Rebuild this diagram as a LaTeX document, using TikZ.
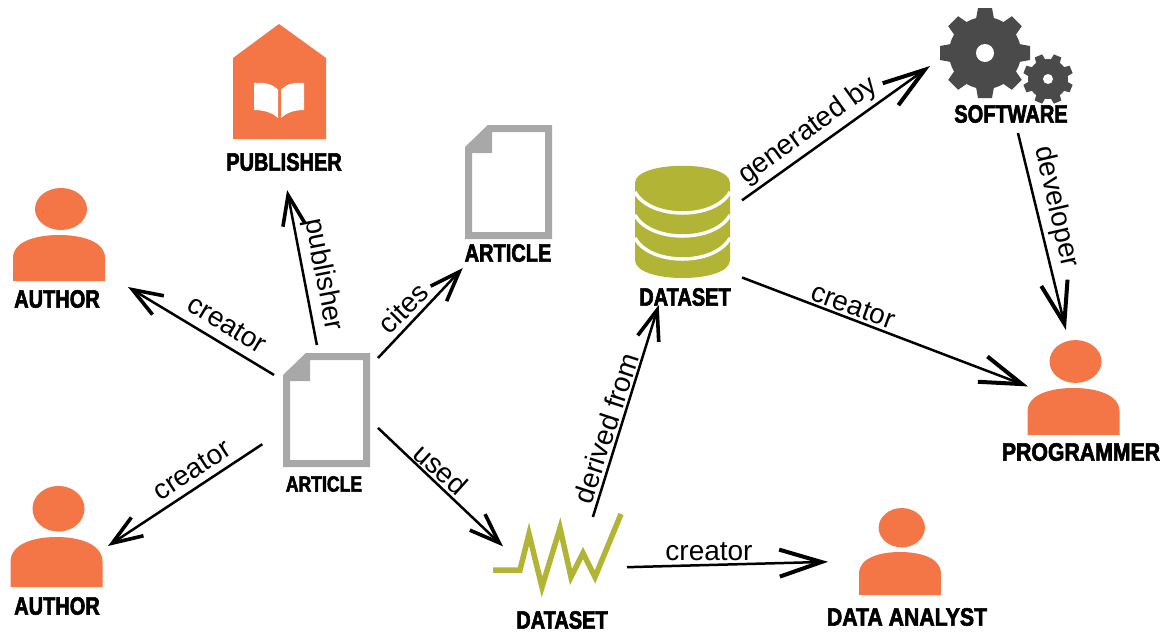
\documentclass[tikz,border=0pt]{standalone}
\usepackage{fontspec}
\setmainfont{Liberation Sans}
\newfontfamily\capsfont[FakeStretch=0.8,FakeBold=2.4]{Liberation Sans Bold}
\newfontfamily\widecapsfont[FakeStretch=0.85,FakeBold=2.4]{Liberation Sans Bold}
\usetikzlibrary{arrows.meta}

\definecolor{personcol}{HTML}{F47545}
\definecolor{datacol}{HTML}{B1B435}
\definecolor{doccol}{HTML}{A8A8A8}
\definecolor{gearcol}{HTML}{4A4A4A}

\tikzset{
    iconbox/.style 2 args={minimum width=#1,minimum height=#2,inner sep=0pt,outer sep=0pt},
    caption/.style={font=\capsfont\fontsize{25}{25}\selectfont,text=black,inner sep=0pt},
    widecaption/.style={font=\widecapsfont\fontsize{25}{25}\selectfont,text=black,inner sep=0pt},
    smallcaption/.style={font=\capsfont\fontsize{22}{22}\selectfont,text=black,inner sep=0pt},
    linklabel/.style={font=\fontsize{28}{28}\selectfont,text=black,inner sep=0pt},
    link/.style={draw=black,line width=2.5pt,-{Straight Barb[length=30pt,width=22pt,line width=3.6pt]}},
    biglink/.style={draw=black,line width=2.5pt,-{Straight Barb[length=42pt,width=27pt,line width=4pt]}},
    pics/person/.style={code={
        \fill[personcol] (2,-26) ellipse (26 and 21);
        \fill[personcol] (-46,46) -- (-46,23) .. controls (-46,6) and (-22,0) .. (0,0)
            .. controls (22,0) and (46,6) .. (46,23) -- (46,46) -- cycle;
    }},
    pics/docpage/.style={code={
        \draw[doccol,line width=7pt,miter limit=10] (-40,-33) -- (-19,-53.5) -- (40,-53.5) -- (40,53.5) -- (-40,53.5) -- cycle;
        \fill[doccol] (-43.5,-29) -- (-16.5,-29) -- (-16.5,-57) -- (-20.5,-57) -- (-43.5,-35) -- cycle;
    }}
}

\begin{document}
\begin{tikzpicture}[x=1pt,y=-1pt]
    \fill[white] (0,0) rectangle (1164,635);
    \useasboundingbox (0,0) rectangle (1164,635);

    % icon boxes
    \node[iconbox={104pt}{130pt}] (article) at (326,410) {};
    \node[iconbox={100pt}{172pt}] (cited) at (508.5,182) {};
    \node[iconbox={138pt}{110pt}] (authorA) at (59,235) {};
    \node[iconbox={102pt}{92pt}] (authorB) at (57,537) {};
    \node[iconbox={93pt}{217pt}] (publisher) at (279.5,81.5) {};
    \node[iconbox={124pt}{74pt}] (wave) at (565,554) {};
    \node[iconbox={119pt}{166pt}] (dataset) at (682.5,222) {};
    \node[iconbox={140pt}{134pt}] (software) at (1000,66) {};
    \node[iconbox={90pt}{116pt}] (programmer) at (1073,388) {};
    \node[iconbox={154pt}{90pt}] (analyst) at (905,551) {};

    % people and pages
    \pic at (59,235) {person};
    \pic[yscale=1.087] at (56.5,537) {person};
    \pic[yscale=1.02] at (1073.5,388) {person};
    \pic[xscale=0.89,yscale=0.935] at (900,552) {person};
    \pic at (326.5,410) {docpage};
    \pic at (508.5,182) {docpage};

    % publisher house
    \fill[personcol] (279,24) -- (326,58) -- (326,139) -- (233,139) -- (233,58) -- cycle;
    \fill[white] (254,83) .. controls (264,82) and (273,84) .. (278,90) -- (278,118)
        .. controls (273,113) and (264,110) .. (254,110) -- cycle;
    \fill[white] (304,83) .. controls (294,82) and (286,84) .. (281,90) -- (281,118)
        .. controls (286,113) and (294,110) .. (304,110) -- cycle;

    % database
    \fill[datacol] (635,183) .. controls (635,160) and (730,160) .. (730,183) -- (730,260)
        .. controls (730,284) and (635,284) .. (635,260) -- cycle;
    \foreach \yy in {192,215,238} {
        \draw[white,line width=3.5pt] (635,\yy) .. controls (650,\yy+28) and (715,\yy+28) .. (730,\yy);
    }

    % wave
    \draw[datacol,line width=5.5pt,miter limit=10] (493,570) -- (520,570) -- (529,534) -- (542,587)
        -- (560,528) -- (571,577) -- (583,553) -- (595,577) -- (621,514);

    % gears
    \foreach \aa in {0,45,...,315} {
        \fill[gearcol,rotate around={\aa:(985,53)}] (978,8) -- (992,8) -- (996,30) -- (974,30) -- cycle;
    }
    \fill[gearcol] (985,53) circle (36);
    \fill[white] (985,53) circle (9);
    \foreach \aa in {22.5,67.5,...,337.5} {
        \fill[gearcol,rotate around={\aa:(1048,79)}] (1044,54) -- (1052,54) -- (1054,68) -- (1042,68) -- cycle;
    }
    \fill[gearcol] (1048,79) circle (20);
    \fill[white] (1048,79) circle (5);

    % captions
    \node[caption] (publisherText) at (284,162) {PUBLISHER};
    \node[caption] (citedText) at (508,253) {ARTICLE};
    \node[smallcaption] (articleText) at (324,484) {ARTICLE};
    \node[caption] (authorAText) at (57,299) {AUTHOR};
    \node[caption] (authorBText) at (57,606) {AUTHOR};
    \node[caption] (datasetText) at (685,297) {DATASET};
    \node[caption] (waveText) at (562,620) {DATASET};
    \node[caption] (softwareText) at (1011,114) {SOFTWARE};
    \node[widecaption] (programmerText) at (1081,452) {PROGRAMMER};
    \node[widecaption] (analystText) at (907,617) {DATA ANALYST};

    % connectors
    \draw[link] (article.146) -- (authorA.-37);
    \draw[link,shorten <=14pt] (article.207) -- (authorB.-10);
    \draw[link] (article.98.7) -- (publisher.-86.6);
    \draw[link] (article.45.5) -- (cited.242.1);
    \draw[link] (article.-19) -- (wave.173.6);
    \draw[link] (wave.53.9) -- (dataset.254.8);
    \draw[biglink] (wave.-12.7) -- (analyst.188.1);
    \draw[biglink] (dataset.20.3) -- (software.180);
    \draw[biglink] (dataset.-43.7) -- (programmer.178.7);
    \draw[biglink] (software.-75.8) -- (programmer.97.9);

    % connector labels
    \node[linklabel,rotate=-31] (creatorA) at (227,324) {creator};
    \node[linklabel,rotate=33] (creatorB) at (192,470) {creator};
    \node[linklabel,rotate=-79] (publisherLabel) at (323,275) {publisher};
    \node[linklabel,rotate=45] (citesLabel) at (403,308) {cites};
    \node[linklabel,rotate=-42] (usedLabel) at (441,469) {used};
    \node[linklabel,rotate=72] (derivedLabel) at (606,428) {derived from};
    \node[linklabel] (creatorC) at (709,552) {creator};
    \node[linklabel,rotate=36] (generatedLabel) at (808,131) {generated by};
    \node[linklabel,rotate=-20] (creatorD) at (853,306) {creator};
    \node[linklabel,rotate=-77] (developerLabel) at (1056,207) {developer};
\end{tikzpicture}
\end{document}
